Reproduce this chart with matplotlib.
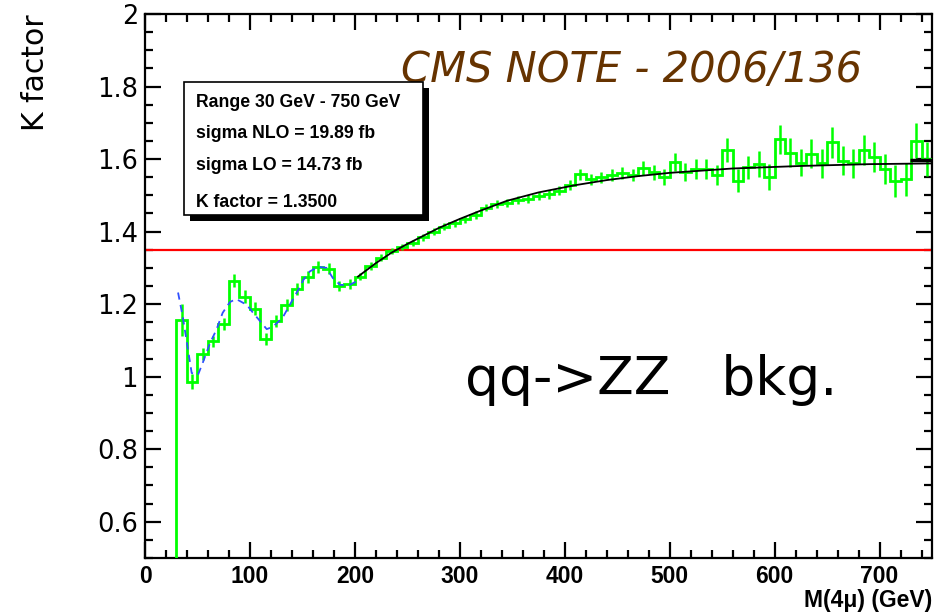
import matplotlib.pyplot as plt
import numpy as np
from matplotlib.ticker import MultipleLocator
from matplotlib.patches import Rectangle

# K factor histogram, 10 GeV bins from 30 to 750 GeV (lower bin edges)
bin_lo = [30, 40, 50, 60, 70, 80, 90, 100, 110, 120, 130, 140, 150, 160, 170, 180, 190,
          200, 210, 220, 230, 240, 250, 260, 270, 280, 290, 300, 310, 320, 330, 340, 350,
          360, 370, 380, 390, 400, 410, 420, 430, 440, 450, 460, 470, 480, 490, 500, 510,
          520, 530, 540, 550, 560, 570, 580, 590, 600, 610, 620, 630, 640, 650, 660, 670,
          680, 690, 700, 710, 720, 730, 740]
kfac = [1.156, 0.986, 1.062, 1.097, 1.145, 1.264, 1.221, 1.187, 1.103, 1.154, 1.198,
        1.241, 1.274, 1.303, 1.298, 1.250, 1.255,
        1.276, 1.305, 1.328, 1.347, 1.357, 1.369, 1.384, 1.400, 1.414, 1.423, 1.434,
        1.446, 1.466, 1.476, 1.478, 1.487, 1.490, 1.498, 1.503, 1.513, 1.528, 1.558,
        1.544, 1.550, 1.556, 1.562, 1.556, 1.575, 1.563, 1.551, 1.593, 1.565, 1.572,
        1.572, 1.556, 1.625, 1.540, 1.577, 1.586, 1.551, 1.655, 1.618, 1.590, 1.614,
        1.588, 1.646, 1.596, 1.588, 1.625, 1.605, 1.572, 1.540, 1.544, 1.651, 1.600]
kerr = [0.045, 0.020, 0.016, 0.016, 0.017, 0.018, 0.017, 0.018, 0.017, 0.017, 0.017,
        0.016, 0.016, 0.016, 0.015, 0.014, 0.013,
        0.010, 0.010, 0.009, 0.009, 0.009, 0.009, 0.009, 0.009, 0.009, 0.009, 0.009,
        0.010, 0.010, 0.010, 0.011, 0.011, 0.011, 0.012, 0.012, 0.012, 0.013, 0.015,
        0.015, 0.015, 0.016, 0.016, 0.017, 0.020, 0.020, 0.022, 0.025, 0.025, 0.027,
        0.028, 0.028, 0.032, 0.032, 0.032, 0.035, 0.035, 0.040, 0.040, 0.038, 0.040,
        0.040, 0.042, 0.040, 0.040, 0.042, 0.042, 0.042, 0.045, 0.045, 0.048, 0.048]

# smooth fit (black), low-mass description (blue dashed)
fit_m = [203, 220, 235, 250, 265, 280, 300, 320, 345, 375, 410, 440, 470, 500, 560,
         625, 690, 750]
fit_k = [1.276, 1.313, 1.342, 1.366, 1.388, 1.410, 1.435, 1.458, 1.485, 1.508, 1.528,
         1.542, 1.553, 1.562, 1.574, 1.581, 1.586, 1.588]
low_m = [31.5, 36, 41, 44.5, 50.5, 55, 62, 68, 74, 81, 87, 97, 103, 110, 116, 122, 131,
         138, 145, 151, 157, 165, 173, 179, 186, 195, 203]
low_k = [1.232, 1.165, 1.074, 1.010, 1.005, 1.038, 1.093, 1.129, 1.176, 1.206, 1.214,
         1.198, 1.176, 1.152, 1.131, 1.138, 1.162, 1.198, 1.234, 1.267, 1.290, 1.303,
         1.300, 1.272, 1.253, 1.253, 1.265]
k_mean = 1.35

W, H = 934, 612
def fx(x): return x / W
def fy(y): return 1 - y / H

fig = plt.figure(figsize=(9.34, 6.12), dpi=100)
ax = fig.add_axes([fx(145), fy(558), fx(932) - fx(145), fy(14) - fy(558)])

edges = [20] + bin_lo + [bin_lo[-1] + 10]
vals = [0] + kfac
ax.stairs(vals, edges, baseline=None, color='#00ff00', lw=2.0, zorder=3)
centers = np.array(bin_lo) + 5
ax.vlines(centers, np.array(kfac) - np.array(kerr), np.array(kfac) + np.array(kerr),
          color='#00ff00', lw=1.8, zorder=3)
ax.plot(fit_m, fit_k, color='black', lw=1.3, zorder=4)
ax.plot(low_m, low_k, color='#3050ff', lw=1.3, ls=(0, (4, 3)), zorder=4)
ax.hlines(1.597, 729, 750, color='black', lw=2.5, zorder=5)
ax.axhline(k_mean, color='#ff0000', lw=1.6, zorder=2)

ax.set_xlim(0, 750)
ax.set_ylim(0.5, 2.0)
ax.xaxis.set_major_locator(MultipleLocator(100))
ax.xaxis.set_minor_locator(MultipleLocator(20))
ax.yaxis.set_major_locator(MultipleLocator(0.2))
ax.yaxis.set_minor_locator(MultipleLocator(0.05))
ax.tick_params(which='both', direction='in', top=True, right=True, width=1.6, pad=5)
ax.tick_params(which='major', length=11.5)
ax.tick_params(which='minor', length=5.5)
ax.tick_params(axis='y', labelsize=18.5)
for s in ax.spines.values():
    s.set_linewidth(1.6)

ax.set_yticks([0.6, 0.8, 1.0, 1.2, 1.4, 1.6, 1.8, 2.0])
ax.set_yticklabels(['0.6', '0.8', '1', '1.2', '1.4', '1.6', '1.8', '2'],
                   family='DejaVu Sans')
ax.set_xticks(range(0, 800, 100))
ax.set_xticklabels([str(v) for v in range(0, 800, 100)],
                   family='Liberation Sans', fontweight='bold', fontsize=16.5)

fig.text(fx(932), fy(607), 'M(4\u03bc) (GeV)', ha='right', va='baseline',
         family='Liberation Sans', fontweight='bold', fontsize=16.5)
fig.text(fx(35), fy(14), 'K factor', rotation=90, ha='center', va='top',
         fontsize=21.5, family='DejaVu Sans')

ax.text(fx(862), fy(82), 'CMS NOTE - 2006/136', transform=fig.transFigure,
        ha='right', va='baseline', fontsize=30, style='italic', color='#663300')
ax.text(fx(465), fy(395), 'qq->ZZ   bkg.', transform=fig.transFigure,
        ha='left', va='baseline', fontsize=38.5, color='black')

# stats box with shadow
shadow = Rectangle((fx(190), fy(221)), fx(429) - fx(190), fy(88) - fy(221),
                   transform=fig.transFigure, facecolor='black', edgecolor='none',
                   zorder=6)
box = Rectangle((fx(184), fy(215)), fx(423) - fx(184), fy(82) - fy(215),
                transform=fig.transFigure, facecolor='white', edgecolor='black',
                lw=1.2, zorder=7)
fig.patches.extend([shadow, box])
lines = ['Range 30 GeV - 750 GeV', 'sigma NLO = 19.89 fb', 'sigma LO = 14.73 fb',
         'K factor = 1.3500']
for txt, yb in zip(lines, [106.7, 138, 170, 206.7]):
    fig.text(fx(196), fy(yb), txt, ha='left', va='baseline', fontsize=12.7,
             family='Liberation Sans', fontweight='bold', zorder=8)

fig.savefig('out.png', dpi=100)
